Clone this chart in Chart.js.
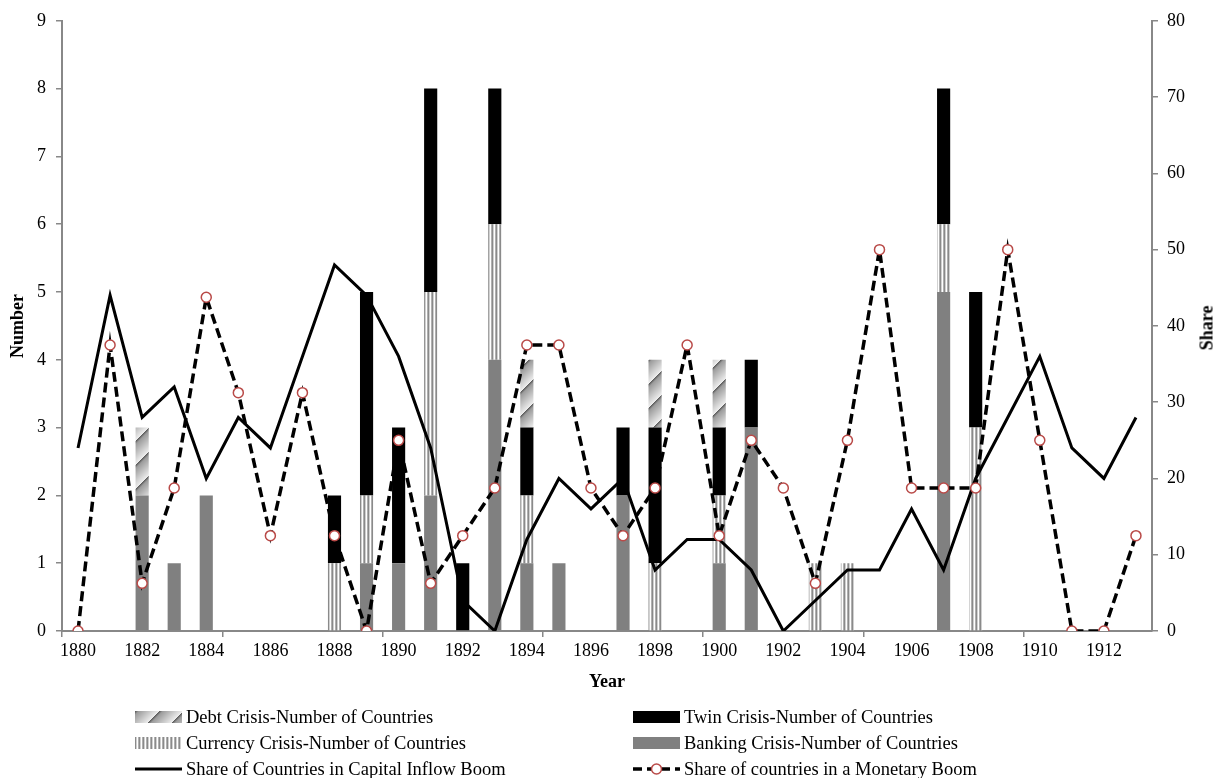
<!DOCTYPE html>
<html><head><meta charset="utf-8">
<script src="https://cdn.jsdelivr.net/npm/chart.js@4.4.0/dist/chart.umd.min.js"></script>
<style>
html,body{margin:0;padding:0;background:#fff;}
#wrap{position:relative;width:1220px;height:778px;overflow:hidden;}
#c{position:absolute;left:0;top:0;}
.lg{position:absolute;font-family:"Liberation Serif","Times New Roman",serif;font-size:18.5px;color:#000;white-space:nowrap;line-height:20px;height:20px;}
.lg canvas{position:absolute;left:0;top:4px;}
.lg span{position:absolute;left:51px;top:0;}
#share{position:absolute;font-family:"Liberation Serif","Times New Roman",serif;font-size:18px;font-weight:bold;left:1207px;top:328px;transform:translate(-50%,-50%) rotate(-90deg);white-space:nowrap;}
</style></head>
<body>
<div id="wrap">
<canvas id="c" width="1220" height="778"></canvas>
<div id="share">Share</div>
<div class="lg" style="left:135px;top:707px;"><canvas id="lgDebt" width="47" height="12"></canvas><span>Debt Crisis-Number of Countries</span></div>
<div class="lg" style="left:633px;top:707px;"><canvas id="lgTwin" width="47" height="12"></canvas><span>Twin Crisis-Number of Countries</span></div>
<div class="lg" style="left:135px;top:733px;"><canvas id="lgCur" width="47" height="12"></canvas><span>Currency Crisis-Number of Countries</span></div>
<div class="lg" style="left:633px;top:733px;"><canvas id="lgBank" width="47" height="12"></canvas><span>Banking Crisis-Number of Countries</span></div>
<div class="lg" style="left:135px;top:759px;"><canvas id="lgCap" width="47" height="12"></canvas><span>Share of Countries in Capital Inflow Boom</span></div>
<div class="lg" style="left:633px;top:759px;"><canvas id="lgMon" width="47" height="12"></canvas><span>Share of countries in a Monetary Boom</span></div>
</div>
<script>
// ---- data ----
const years = ['1880','1881','1882','1883','1884','1885','1886','1887','1888','1889',
  '1890','1891','1892','1893','1894','1895','1896','1897','1898','1899',
  '1900','1901','1902','1903','1904','1905','1906','1907','1908','1909',
  '1910','1911','1912','1913'];
const banking  = [0,0,2,1,2,0,0,0,0,1, 1,2,0,4,1,1,0,2,0,0, 1,3,0,0,0,0,0,5,0,0, 0,0,0,0];
const currency = [0,0,0,0,0,0,0,0,1,1, 0,3,0,2,1,0,0,0,1,0, 1,0,0,1,1,0,0,1,3,0, 0,0,0,0];
const twin     = [0,0,0,0,0,0,0,0,1,3, 2,3,1,2,1,0,0,1,2,0, 1,1,0,0,0,0,0,2,2,0, 0,0,0,0];
const debt     = [0,0,1,0,0,0,0,0,0,0, 0,0,0,0,1,0,0,0,1,0, 1,0,0,0,0,0,0,0,0,0, 0,0,0,0];
const capitalBoom  = [24,44,28,32,20,28,24,36,48,44, 36,24,4,0,12,20,16,20,8,12, 12,8,0,4,8,8,16,8,20,28, 36,24,20,28];
const monetaryBoom = [0,37.5,6.25,18.75,43.75,31.25,12.5,31.25,12.5,0, 25,6.25,12.5,18.75,37.5,37.5,18.75,12.5,18.75,37.5,
  12.5,25,18.75,6.25,25,50,18.75,18.75,18.75,50, 25,0,0,12.5];
const leftTicks = {min:0, max:9, step:1};
const rightTicks = {min:0, max:80, step:10};

// ---- patterns ----
function debtTile(){
  const P = 24;
  const c = document.createElement('canvas'); c.width = P; c.height = P;
  const g = c.getContext('2d');
  const img = g.createImageData(P, P);
  for (let y = 0; y < P; y++) for (let x = 0; x < P; x++) {
    const t = ((x + y) % P) / P;
    let v = t < 0.12 ? 95 + (t / 0.12) * 60 : 155 + ((t - 0.12) / 0.88) * 85;
    const i = (y * P + x) * 4;
    img.data[i] = img.data[i+1] = img.data[i+2] = Math.round(v);
    img.data[i+3] = 255;
  }
  g.putImageData(img, 0, 0);
  return c;
}
function curTile(){
  const cols = ['#8a8a8a','#d0d0d0','#ffffff','#b0b0b0'];
  const c = document.createElement('canvas'); c.width = 4; c.height = 4;
  const g = c.getContext('2d');
  cols.forEach((col, i) => { g.fillStyle = col; g.fillRect(i, 0, 1, 4); });
  return c;
}
const ctx = document.getElementById('c').getContext('2d');
const debtPattern = ctx.createPattern(debtTile(), 'repeat');
const curPattern = ctx.createPattern(curTile(), 'repeat');

const FONT = '"Liberation Serif", "Times New Roman", serif';
const GREY = '#888888';

new Chart(ctx, {
  type: 'bar',
  data: {
    labels: years,
    datasets: [
      {type:'line', label:'Share of countries in a Monetary Boom', data: monetaryBoom, yAxisID:'y1',
       borderColor:'#000', borderWidth:3.5, borderDash:[10,5], pointRadius:5, pointHoverRadius:5,
       pointBackgroundColor:'#fff', pointBorderColor:'#b94a48', pointBorderWidth:1.5, tension:0, order:0},
      {type:'line', label:'Share of Countries in Capital Inflow Boom', data: capitalBoom, yAxisID:'y1',
       borderColor:'#000', borderWidth:3, pointRadius:0, tension:0, order:1},
      {label:'Banking Crisis-Number of Countries', data: banking, backgroundColor:'#808080', yAxisID:'y', stack:'s', order:2},
      {label:'Currency Crisis-Number of Countries', data: currency, backgroundColor: curPattern, yAxisID:'y', stack:'s', order:2},
      {label:'Twin Crisis-Number of Countries', data: twin, backgroundColor:'#000', yAxisID:'y', stack:'s', order:2},
      {label:'Debt Crisis-Number of Countries', data: debt, backgroundColor: debtPattern, yAxisID:'y', stack:'s', order:2}
    ]
  },
  options: {
    responsive:false, animation:false, devicePixelRatio:1,
    layout:{padding:{top:11, bottom:85, left:0, right:0}},
    plugins:{legend:{display:false}, tooltip:{enabled:false}},
    datasets:{bar:{barPercentage:0.41, categoryPercentage:1, borderWidth:0}},
    scales:{
      x:{
        stacked:true, offset:true,
        grid:{offset:true, drawOnChartArea:false, drawTicks:true, tickLength:6, lineWidth:1.5,
              color: c => (c.index % 5 === 0 ? GREY : 'rgba(0,0,0,0)')},
        border:{color:GREY, width:2},
        ticks:{autoSkip:false, maxRotation:0, minRotation:0, padding:3, color:'#000',
               font:{family:FONT, size:18},
               callback:(v, i) => (i % 2 === 0 ? years[i] : '')},
        title:{display:true, text:'Year', color:'#000', padding:{top:0,bottom:0},
               font:{family:FONT, size:18, weight:'bold'}},
        afterFit: s => { s.height = 62; }
      },
      y:{
        position:'left', stacked:true, min:leftTicks.min, max:leftTicks.max,
        grid:{drawOnChartArea:false, tickLength:6, color:GREY, lineWidth:1.5},
        border:{color:GREY, width:2},
        ticks:{stepSize:leftTicks.step, padding:10, color:'#000', font:{family:FONT, size:18}},
        title:{display:true, text:'Number', color:'#000', padding:{top:8,bottom:0},
               font:{family:FONT, size:18, weight:'bold'}},
        afterFit: s => { s.width = 62; }
      },
      y1:{
        position:'right', min:rightTicks.min, max:rightTicks.max,
        grid:{drawOnChartArea:false, tickLength:6, color:GREY, lineWidth:1.5},
        border:{color:GREY, width:2},
        ticks:{stepSize:rightTicks.step, padding:9, color:'#000', font:{family:FONT, size:18}},
        afterFit: s => { s.width = 68; }
      }
    }
  }
});

// ---- legend swatches ----
function sw(id){ const c = document.getElementById(id); return c.getContext('2d'); }
(function(){
  let g = sw('lgDebt'); g.fillStyle = '#fff'; g.fillRect(0,0,47,12);
  g.fillStyle = g.createPattern(debtTile(), 'repeat'); g.fillRect(0,0,47,12);
  g = sw('lgTwin'); g.fillStyle = '#000'; g.fillRect(0,0,47,12);
  g = sw('lgCur'); g.fillStyle = g.createPattern(curTile(), 'repeat'); g.fillRect(0,0,47,12);
  g = sw('lgBank'); g.fillStyle = '#808080'; g.fillRect(0,0,47,12);
  g = sw('lgCap'); g.strokeStyle = '#000'; g.lineWidth = 3; g.beginPath(); g.moveTo(0,6); g.lineTo(47,6); g.stroke();
  g = sw('lgMon'); g.strokeStyle = '#000'; g.lineWidth = 3.5; g.setLineDash([9,5]); g.beginPath(); g.moveTo(0,6); g.lineTo(47,6); g.stroke();
  g.setLineDash([]); g.fillStyle = '#fff'; g.strokeStyle = '#b94a48'; g.lineWidth = 1.5;
  g.beginPath(); g.arc(23.5,6,5,0,Math.PI*2); g.fill(); g.stroke();
})();
</script>
</body></html>
